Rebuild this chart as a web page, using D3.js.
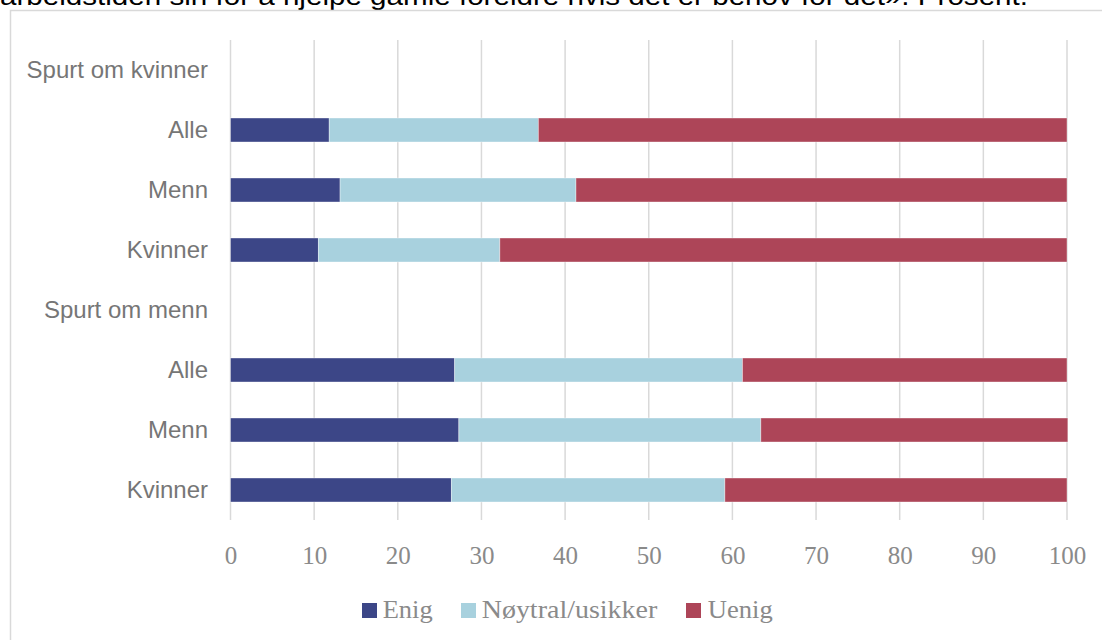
<!DOCTYPE html>
<html>
<head>
<meta charset="utf-8">
<script src="https://cdn.jsdelivr.net/npm/d3@7"></script>
<style>
  html, body { margin: 0; padding: 0; background: #fff; overflow: hidden; }
  svg { display: block; }
</style>
</head>
<body>
<svg id="chart" width="1102" height="640"></svg>
<script>
const titleText = "arbeidstiden sin for å hjelpe gamle foreldre hvis det er behov for det». Prosent.";
const categories = ["Spurt om kvinner", "Alle", "Menn", "Kvinner", "Spurt om menn", "Alle ", "Menn ", "Kvinner "];
const seriesNames = ["Enig", "Nøytral/usikker", "Uenig"];
const seriesColors = ["#3c4687", "#a8d1de", "#ad4558"];
const enig    = [null, 11.8, 13.1, 10.5, null, 26.8, 27.3, 26.4];
const noytral = [null, 25.0, 28.2, 21.7, null, 34.4, 36.1, 32.7];
const uenig   = [null, 63.2, 58.7, 67.8, null, 38.8, 36.7, 40.9];
const xTicks = [0, 10, 20, 30, 40, 50, 60, 70, 80, 90, 100];

const svg = d3.select("#chart");

// title (cut off at top, as in the reference)
svg.append("text")
  .attr("x", 0).attr("y", 5)
  .attr("font-family", "Liberation Sans, Arial, sans-serif")
  .attr("font-size", 25)
  .attr("fill", "#000")
  .attr("textLength", 1028)
  .attr("lengthAdjust", "spacingAndGlyphs")
  .text(titleText);

// frame
svg.append("rect")
  .attr("x", 10.5).attr("y", 10.5)
  .attr("width", 1102).attr("height", 640)
  .attr("fill", "none")
  .attr("stroke", "#d9d9d9")
  .attr("stroke-width", 1.5);

const x = d3.scaleLinear().domain([0, 100]).range([230.5, 1067]);
const y = d3.scaleBand().domain(categories).range([40, 520]).paddingInner(0.6).paddingOuter(0.3);

// gridlines
svg.append("g").selectAll("line").data(xTicks).join("line")
  .attr("x1", d => x(d)).attr("x2", d => x(d))
  .attr("y1", 40).attr("y2", 520)
  .attr("stroke", "#d9d9d9").attr("stroke-width", 1.5);

// tick labels via axis
const xAxis = d3.axisBottom(x).tickValues(xTicks).tickSize(0).tickPadding(0).tickFormat(d3.format("d"));
const gx = svg.append("g").attr("transform", "translate(0,564)").call(xAxis);
gx.select(".domain").remove();
gx.selectAll("text")
  .attr("dy", 0)
  .attr("font-family", "Liberation Serif, Times New Roman, serif")
  .attr("font-size", 25)
  .attr("fill", "#8a8a8a");

// category labels via axis
const yAxis = d3.axisLeft(y).tickSize(0).tickPadding(0);
const gy = svg.append("g").attr("transform", "translate(208,0)").call(yAxis);
gy.select(".domain").remove();
gy.selectAll("text")
  .attr("dy", "0.35em")
  .attr("font-family", "Liberation Sans, Arial, sans-serif")
  .attr("font-size", 24)
  .attr("fill", "#767676");

// stacked bars
const rows = categories.map((c, i) => ({cat: c, Enig: enig[i], "Nøytral/usikker": noytral[i], Uenig: uenig[i]}))
  .filter(r => r.Enig !== null);
const stack = d3.stack().keys(seriesNames)(rows);
svg.append("g").selectAll("g").data(stack).join("g")
  .attr("fill", (d, i) => seriesColors[i])
  .selectAll("rect").data(d => d).join("rect")
  .attr("x", d => x(d[0]))
  .attr("width", d => x(d[1]) - x(d[0]))
  .attr("y", d => y(d.data.cat))
  .attr("height", y.bandwidth())
  .attr("stroke", "#ffffff").attr("stroke-opacity", 0.5).attr("stroke-width", 0.75);

// legend
const legendItems = [
  {name: seriesNames[0], color: seriesColors[0], sx: 362, tx: 382.7, w: 50},
  {name: seriesNames[1], color: seriesColors[1], sx: 461, tx: 481.7, w: 175.6},
  {name: seriesNames[2], color: seriesColors[2], sx: 686, tx: 707.7, w: 65}
];
const lg = svg.append("g");
lg.selectAll("rect").data(legendItems).join("rect")
  .attr("x", d => d.sx).attr("y", 603)
  .attr("width", 15).attr("height", 15)
  .attr("fill", d => d.color);
lg.selectAll("text").data(legendItems).join("text")
  .attr("x", d => d.tx).attr("y", 618)
  .attr("font-family", "Liberation Serif, Times New Roman, serif")
  .attr("font-size", 26)
  .attr("fill", "#8a8a8a")
  .attr("textLength", d => d.w)
  .attr("lengthAdjust", "spacingAndGlyphs")
  .text(d => d.name);
</script>
</body>
</html>
